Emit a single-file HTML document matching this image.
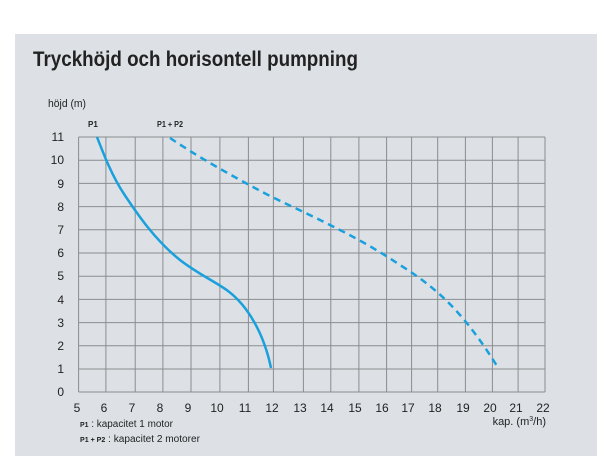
<!DOCTYPE html>
<html><head><meta charset="utf-8"><style>
body{margin:0;background:#fff;width:613px;height:469px;overflow:hidden}
svg{display:block}
text{font-family:"Liberation Sans Narrow","Liberation Sans",sans-serif;fill:#222}
</style></head><body>
<svg width="613" height="469" viewBox="0 0 613 469">
<rect x="15" y="34" width="582" height="422" fill="#dde1e5"/>
<text x="33" y="66" font-size="21" font-weight="bold" fill="#1a1a1a" textLength="325" lengthAdjust="spacingAndGlyphs">Tryckhöjd och horisontell pumpning</text>
<text x="48" y="107" font-size="11" textLength="38" lengthAdjust="spacingAndGlyphs">höjd (m)</text>
<text x="88" y="127" font-size="8" font-weight="bold">P1</text>
<text x="157" y="127" font-size="8" font-weight="bold" textLength="26" lengthAdjust="spacingAndGlyphs">P1 + P2</text>
<g stroke="#8a8d90" stroke-width="1">
<line x1="78.6" y1="137" x2="545" y2="137"/><line x1="78.6" y1="160.2" x2="545" y2="160.2"/><line x1="78.6" y1="183.4" x2="545" y2="183.4"/><line x1="78.6" y1="206.6" x2="545" y2="206.6"/><line x1="78.6" y1="229.8" x2="545" y2="229.8"/><line x1="78.6" y1="253" x2="545" y2="253"/><line x1="78.6" y1="276.2" x2="545" y2="276.2"/><line x1="78.6" y1="299.4" x2="545" y2="299.4"/><line x1="78.6" y1="322.6" x2="545" y2="322.6"/><line x1="78.6" y1="345.8" x2="545" y2="345.8"/><line x1="78.6" y1="369" x2="545" y2="369"/><line x1="78.6" y1="392" x2="545" y2="392"/>
<line x1="78.6" y1="137" x2="78.6" y2="392"/><line x1="105.9" y1="137" x2="105.9" y2="392"/><line x1="135.2" y1="137" x2="135.2" y2="392"/><line x1="162.9" y1="137" x2="162.9" y2="392"/><line x1="191" y1="137" x2="191" y2="392"/><line x1="219.9" y1="137" x2="219.9" y2="392"/><line x1="248.4" y1="137" x2="248.4" y2="392"/><line x1="273.4" y1="137" x2="273.4" y2="392"/><line x1="303.4" y1="137" x2="303.4" y2="392"/><line x1="330.8" y1="137" x2="330.8" y2="392"/><line x1="358.9" y1="137" x2="358.9" y2="392"/><line x1="386.6" y1="137" x2="386.6" y2="392"/><line x1="411.6" y1="137" x2="411.6" y2="392"/><line x1="437.7" y1="137" x2="437.7" y2="392"/><line x1="465.4" y1="137" x2="465.4" y2="392"/><line x1="492.4" y1="137" x2="492.4" y2="392"/><line x1="518.1" y1="137" x2="518.1" y2="392"/><line x1="545" y1="137" x2="545" y2="392"/>
</g>
<g font-size="12" text-anchor="end">
<text x="64" y="141">11</text><text x="64" y="164">10</text><text x="64" y="188">9</text><text x="64" y="211">8</text><text x="64" y="234">7</text><text x="64" y="257">6</text><text x="64" y="280">5</text><text x="64" y="304">4</text><text x="64" y="327">3</text><text x="64" y="350">2</text><text x="64" y="373">1</text><text x="64" y="396">0</text>
</g>
<g font-size="12" text-anchor="middle">
<text x="77" y="412">5</text><text x="104" y="412">6</text><text x="132" y="412">7</text><text x="160" y="412">8</text><text x="188" y="412">9</text><text x="217" y="412">10</text><text x="245" y="412">11</text><text x="272" y="412">12</text><text x="300" y="412">13</text><text x="327" y="412">14</text><text x="355" y="412">15</text><text x="382" y="412">16</text><text x="408" y="412">17</text><text x="435" y="412">18</text><text x="463" y="412">19</text><text x="490" y="412">20</text><text x="516" y="412">21</text><text x="543" y="412">22</text>
</g>
<text x="546" y="425" font-size="11" text-anchor="end">kap. (m<tspan font-size="7" dy="-4">3</tspan><tspan dy="4">/h)</tspan></text>
<text x="80" y="427" font-size="10" textLength="93" lengthAdjust="spacingAndGlyphs"><tspan font-size="7" font-weight="bold">P1</tspan> : kapacitet 1 motor</text>
<text x="80" y="442" font-size="10" textLength="120" lengthAdjust="spacingAndGlyphs"><tspan font-size="7" font-weight="bold">P1 + P2</tspan> : kapacitet  2 motorer</text>
<path d="M97,137 C104,155 112,176 124,194 C138,215 155,240 180,260 C198,274 216,282 228,291 C248,306 264,334 271,368" fill="none" stroke="#1aa0dc" stroke-width="2.5"/>
<path d="M170,138 C200,158 230,175 270,196 C320,220 360,238 400,265 C440,290 465,315 497,366" fill="none" stroke="#1aa0dc" stroke-width="2.5" stroke-dasharray="7,5"/>
</svg>
</body></html>
